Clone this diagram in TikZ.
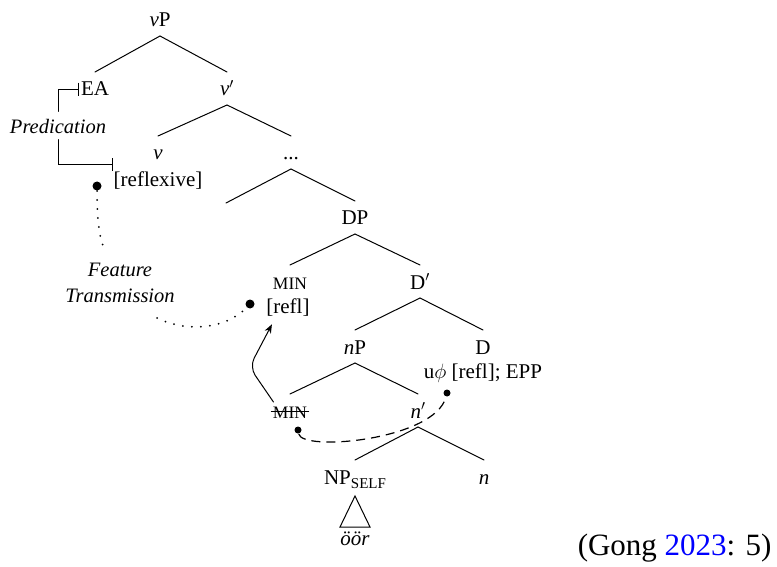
\documentclass[tikz,border=0pt]{standalone}
\usepackage{fontspec}
\setmainfont{Liberation Serif}
\usetikzlibrary{arrows.meta}
\newcommand\smcap[1]{{\fontsize{17.5}{20}\selectfont #1}}
\begin{document}
\begin{tikzpicture}[x=1pt,y=-1pt,line width=1pt,line cap=round,
  lab/.style={anchor=base,inner sep=0pt,font=\fontsize{21}{25}\selectfont},
  note/.style={lab,font=\fontsize{20.5}{25}\selectfont\itshape},
  bigdot/.style={circle,fill,inner sep=0pt,minimum size=9pt},
  smalldot/.style={circle,fill,inner sep=0pt,minimum size=7pt},
  dotline/.style={line width=2pt,dash pattern=on 0pt off 9pt,line cap=round},
  dashline/.style={line width=1.2pt,dash pattern=on 9pt off 6pt,line cap=butt}]
\useasboundingbox (0,0) rectangle (777,567);
\newcommand\branch[2]{\draw ([yshift=-9pt]#1.base) -- ([yshift=24pt]#2.base);}

% tree labels
\node[lab] (vP)   at (160,27)  {\textit{v}P};
\node[lab] (EA)   at (95,96)   {EA};
\node[lab] (v1)   at (227,96)  {\textit{v}$'$};
\node[lab] (v)    at (158,160) {\textit{v}};
\node[lab] (rfx)  at (158,187) {[reflexive]};
\node[lab] (dots) at (291,160) {...};
\node[lab] (e1)   at (226,227) {};
\node[lab] (DP)   at (355,225) {DP};
\node[lab] (min)  at (290,289) {\smcap{MIN}};
\node[lab] (refl) at (288,313) {[refl]};
\node[lab] (D1)   at (420,289) {D$'$};
\node[lab] (nP)   at (355,354) {\textit{n}P};
\node[lab] (D)    at (483,354) {D};
\node[lab] (feat) at (483,378) {u$\phi$ [refl]; EPP};
\node[lab] (mins) at (290,418) {\smcap{MIN}};
\node[lab] (n1)   at (418,418) {\textit{n}$'$};
\node[lab] (NP)   at (355,484) {NP\raisebox{-4pt}{\fontsize{15}{17}\selectfont SELF}};
\node[lab] (n)    at (484,484) {\textit{n}};
\node[lab] (oor)  at (355,545) {\textit{öör}};

% branches
\branch{vP}{EA}
\branch{vP}{v1}
\branch{v1}{v}
\branch{v1}{dots}
\branch{dots}{e1}
\branch{dots}{DP}
\branch{DP}{min}
\branch{DP}{D1}
\branch{D1}{nP}
\branch{D1}{D}
\branch{nP}{mins}
\branch{nP}{n1}
\branch{n1}{NP}
\branch{n1}{n}

% roof over the NP
\draw ([yshift=-12pt]NP.base) -- +(-15,31) -- +(15,31) -- cycle;

% struck-out copy
\draw ([xshift=-1pt,yshift=7pt]mins.base west) -- ([xshift=1pt,yshift=7pt]mins.base east);

% predication bracket
\node[note] (pred) at (58,134) {Predication};
\draw[-{Bar[width=13pt]}] ([yshift=8pt]pred.north) |- ([xshift=-2pt]EA.west);
\draw[-{Bar[width=13pt]}] ([yshift=-5pt]pred.south) |- ([yshift=7pt]rfx.north west);

% feature transmission
\node[note] (ft1) at (120,276) {Feature};
\node[note] (ft2) at (120,302) {Transmission};
\node[bigdot] (dA) at (97,186) {};
\node[bigdot] (dB) at (250,304) {};
\draw[dotline] (dA) .. controls (97,222) and (100,240) .. ([xshift=-16pt,yshift=14pt]ft1.north);
\draw[dotline] ([xshift=-18pt,yshift=-16pt]ft2.base east) .. controls (185,332) and (225,330) .. (dB);

% movement arrow
\draw[-{Stealth[length=9pt,width=7pt]},rounded corners=10pt]
  ([xshift=1pt,yshift=4pt]mins.north west) -- ++(-24,-35) -- ([xshift=6pt,yshift=-8pt]refl.south west);

% agreement path
\node[smalldot] (dC) at (298,430) {};
\node[smalldot] (dD) at (447,393) {};
\draw[dashline] (dC) .. controls (302,452) and (435,440) .. (dD);

% source
\node[lab,anchor=base east,font=\fontsize{31}{36}\selectfont] (src) at (772,555) {(Gong \textcolor{blue}{2023}: 5)};
\end{tikzpicture}
\end{document}
